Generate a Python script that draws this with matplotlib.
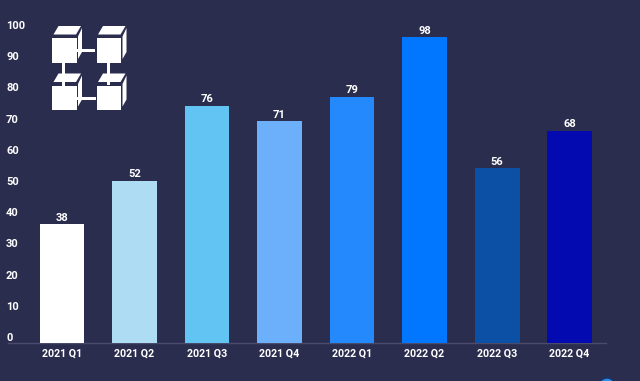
import matplotlib
matplotlib.use("Agg")
import matplotlib.pyplot as plt
from matplotlib.patches import Polygon, Ellipse
from matplotlib.transforms import ScaledTranslation

categories = ["2021 Q1", "2021 Q2", "2021 Q3", "2021 Q4", "2022 Q1", "2022 Q2", "2022 Q3", "2022 Q4"]
values = [38, 52, 76, 71, 79, 98, 56, 68]
bar_colors = ["#FFFFFF", "#AEDCF3", "#62C4F3", "#6CB0FC", "#2389FC", "#0176FE", "#0B50A5", "#030BB0"]
y_ticks = list(range(0, 101, 10))

BG = "#2B2D4F"
W, H = 640, 381
plt.rcParams["font.family"] = ["Roboto", "DejaVu Sans"]
fig = plt.figure(figsize=(W / 100, H / 100), dpi=100, facecolor=BG)
ax = fig.add_axes([8 / W, (H - 343) / H, (606 - 8) / W, 343 / H], facecolor="none")

ax.bar(range(len(values)), values, width=0.62, color=bar_colors, zorder=3)
ax.set_xlim(-0.745, 7.503)
ax.set_ylim(0, 343 / 3.12)
for i, v in enumerate(values):
    ax.annotate(str(v), (i, v), xytext=(0, 1.2), textcoords="offset points", ha="center", va="bottom",
                color="white", fontsize=8, fontweight="bold", zorder=4)

ax.set_xticks(range(len(categories)), categories)
ax.set_yticks(y_ticks)
ax.tick_params(axis="both", length=0, colors="white", labelsize=8)
ax.tick_params(axis="x", pad=4)
ax.tick_params(axis="y", pad=1.4)
off = ScaledTranslation(0, 6 / 100, fig.dpi_scale_trans)
for lab in ax.get_yticklabels():
    lab.set_ha("left")
    lab.set_transform(lab.get_transform() + off)
    lab.set_fontweight("bold")
for lab in ax.get_xticklabels():
    lab.set_fontweight("bold")
    lab.set_fontsize(7.7)
for s in ["top", "left", "right"]:
    ax.spines[s].set_visible(False)
ax.spines["bottom"].set_color("#4A4B6B")
ax.spines["bottom"].set_linewidth(1)

def px(x, y):
    return (x / W, 1 - y / H)

def poly(pts, **kw):
    fig.add_artist(Polygon([px(*p) for p in pts], closed=True, transform=fig.transFigure,
                           facecolor="white", edgecolor="none", **kw))

def cube(x, y):
    s = 24.5
    poly([(x, y), (x + s, y), (x + s, y + s), (x, y + s)])
    poly([(x + 1.5, y - 3.5), (x + 6.5, y - 12), (x + 29, y - 12), (x + 24, y - 3.5)])
    poly([(x + 26, y - 1.5), (x + 30, y - 10), (x + 30, y + 14), (x + 26, y + 21)])

for cx, cy in [(52, 38), (96.5, 38), (52, 85.5), (96.5, 85.5)]:
    cube(cx, cy)
poly([(76, 48.5), (95, 48.5), (95, 51.5), (76, 51.5)])
poly([(77, 97), (96, 97), (96, 100), (77, 100)])
poly([(62, 62), (65, 62), (65, 86), (62, 86)])
poly([(107, 62), (110, 62), (110, 85), (107, 85)])

fig.add_artist(Ellipse(px(607, 386), 16 / W, 16 / H, transform=fig.transFigure,
                       facecolor="#2F8CEB", edgecolor="#12356B", linewidth=1))
fig.savefig("out.png", dpi=100, facecolor=BG)
